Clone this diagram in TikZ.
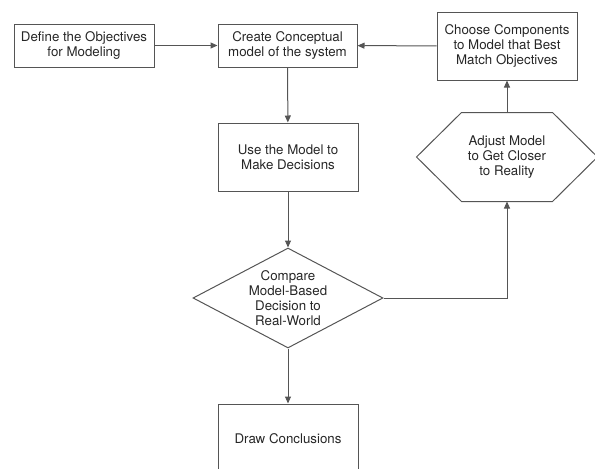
\documentclass[tikz,border=0pt]{standalone}
\usepackage{fontspec}
\setmainfont{TeX Gyre Heros}
\usetikzlibrary{shapes.geometric,arrows.meta}
\definecolor{linegray}{HTML}{555555}
\definecolor{textgray}{HTML}{262626}
\tikzset{
	stepbox/.style={draw=linegray, line width=1pt, align=center, text=textgray,
		minimum width=140pt, inner sep=0pt, font=\fontsize{13.3}{15}\selectfont},
	flow/.style={draw=linegray, line width=1pt, -{Triangle[length=7pt,width=6pt]}}
}
\begin{document}
\begin{tikzpicture}[x=1pt,y=-1pt]
	\useasboundingbox (0,0) rectangle (595,469);
	\node[stepbox, minimum height=43pt] (define) at (84,45.5) {Define the Objectives\\for Modeling};
	\node[stepbox, minimum width=139pt, minimum height=43pt] (create) at (287.5,45.5) {Create Conceptual\\model of the system};
	\node[stepbox, minimum height=68pt] (choose) at (507,46) {Choose Components\\to Model that Best\\Match Objectives};
	\node[stepbox, minimum height=68pt] (use) at (288,157) {Use the Model to\\Make Decisions};
	\node[stepbox, draw=none, minimum width=180pt, minimum height=88pt] (adjust) at (507,157) {Adjust Model\\to Get Closer\\to Reality};
	\draw[draw=linegray, line width=1pt] (adjust.west) -- ([xshift=45pt]adjust.north west) -- ([xshift=-45pt]adjust.north east)
		-- (adjust.east) -- ([xshift=-45pt]adjust.south east) -- ([xshift=45pt]adjust.south west) -- cycle;
	\node[stepbox, diamond, minimum width=190pt, minimum height=100pt, aspect=1.9] (compare) at (288,298) {Compare\\Model-Based\\Decision to\\Real-World};
	\node[stepbox, minimum height=70pt] (conclude) at (288,439) {Draw Conclusions};

	\draw[flow] (define) -- (create);
	\draw[flow] (choose) -- (create);
	\draw[flow] (create) -- (use);
	\draw[flow] (use) -- (compare);
	\draw[flow] (compare.east) -| (adjust.south);
	\draw[flow] (adjust) -- (choose);
	\draw[flow] (compare) -- (conclude);
\end{tikzpicture}
\end{document}
